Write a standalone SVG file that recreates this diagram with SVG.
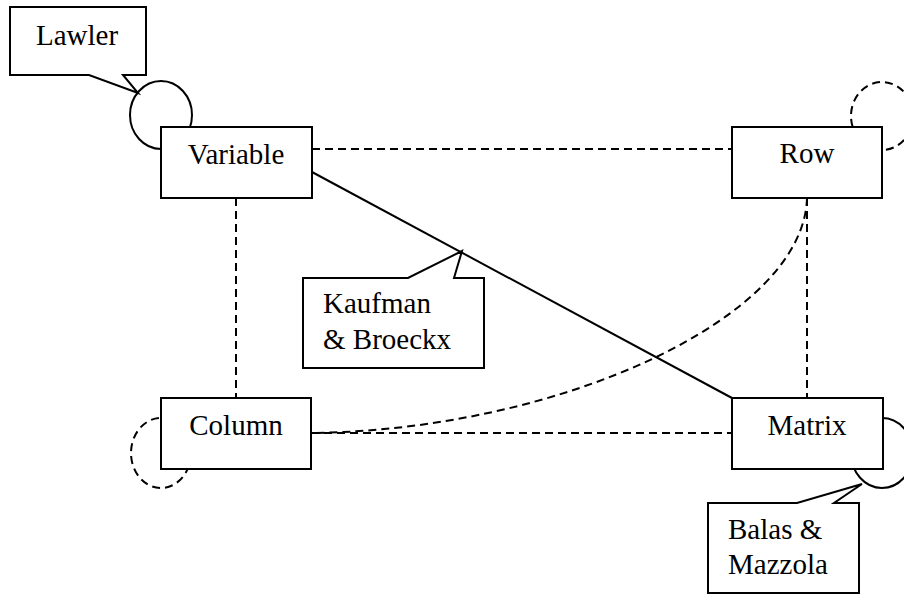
<svg xmlns="http://www.w3.org/2000/svg" width="904" height="595" viewBox="0 0 904 595">
<style>
.box{fill:#fff;stroke:#000;stroke-width:2}
.call{fill:#fff;stroke:#000;stroke-width:2;stroke-linejoin:miter}
.loop{fill:none;stroke:#000;stroke-width:2}
.dash{stroke-dasharray:8 5}
.edge{fill:none;stroke:#000;stroke-width:2}
text{font-family:"Liberation Serif","Times New Roman",serif;font-size:29px;fill:#000}
.c{text-anchor:middle}
</style>
<rect width="904" height="595" fill="#fff"/>
<g id="connectors">
<line class="edge dash" x1="312" y1="149" x2="732" y2="149"/>
<line class="edge dash" x1="236" y1="198" x2="236" y2="398"/>
<line class="edge dash" x1="807" y1="198" x2="807" y2="398"/>
<line class="edge dash" x1="311" y1="433" x2="732" y2="433"/>
<path class="edge dash" d="M807 198 C804 318 560 430 311 433"/>
<line class="edge" x1="312" y1="172" x2="732" y2="398"/>
</g>
<g id="loops">
<ellipse class="loop" cx="161" cy="115" rx="31" ry="34"/>
<ellipse class="loop dash" cx="882" cy="116" rx="31" ry="34"/>
<ellipse class="loop dash" cx="161" cy="453" rx="30" ry="35"/>
<ellipse class="loop" cx="882" cy="453" rx="31" ry="35"/>
</g>
<g id="variable"><rect class="box" x="161" y="127" width="151" height="71"/><text class="c" x="236" y="164">Variable</text></g>
<g id="row"><rect class="box" x="732" y="127" width="150" height="71"/><text class="c" x="807" y="163">Row</text></g>
<g id="column"><rect class="box" x="161" y="398" width="150" height="71"/><text class="c" x="236" y="435">Column</text></g>
<g id="matrix"><rect class="box" x="732" y="398" width="151" height="71"/><text class="c" x="807" y="435">Matrix</text></g>
<g id="lawler"><path class="call" d="M10 7 H146 V75 H123 L138 93 L89 75 H10 Z"/><text class="c" x="77" y="45">Lawler</text></g>
<g id="kaufman"><path class="call" d="M303 278 H408 L462 251 L454 278 H484 V368 H303 Z"/><text x="323" y="313">Kaufman</text><text x="323" y="349">&amp; Broeckx</text></g>
<g id="balas"><path class="call" d="M708 503 H797 L862 484 L834 503 H859 V593 H708 Z"/><text x="728" y="539">Balas &amp;</text><text x="728" y="574">Mazzola</text></g>
</svg>
